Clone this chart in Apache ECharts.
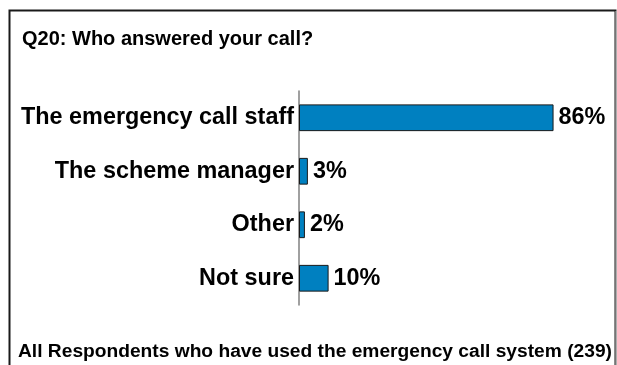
<!DOCTYPE html>
<html>
<head>
<meta charset="utf-8">
<script src="https://cdn.jsdelivr.net/npm/echarts@6/dist/echarts.min.js"></script>
<style>
  html, body { margin: 0; padding: 0; background: #fff; }
  #chart { width: 617px; height: 365px; }
</style>
</head>
<body>
<div id="chart"></div>
<script>
// Survey responses, top to bottom
const categories = ['The emergency call staff', 'The scheme manager', 'Other', 'Not sure'];
const percentages = [86, 3, 2, 10];

const titleText = 'Q20: Who answered your call?';
const footerText = 'All Respondents who have used the emergency call system (239)';

const chart = echarts.init(document.getElementById('chart'), null, { renderer: 'canvas' });
const font = 'Liberation Sans, Arial, sans-serif';

chart.setOption({
  animation: false,
  backgroundColor: '#ffffff',
  title: {
    text: titleText,
    left: 22,
    top: 29,
    padding: 0,
    textStyle: { fontFamily: font, fontSize: 20, fontWeight: 'bold', color: '#000' }
  },
  grid: { left: 299, right: 22, top: 91, bottom: 60 },
  xAxis: {
    type: 'value',
    min: 0,
    max: 100,
    show: false
  },
  yAxis: {
    type: 'category',
    inverse: true,
    data: categories,
    axisLine: { show: true, lineStyle: { color: '#808080', width: 1.5 } },
    axisTick: { show: false },
    axisLabel: {
      margin: 5,
      fontFamily: font,
      fontSize: 23.4,
      fontWeight: 'bold',
      color: '#000'
    }
  },
  series: [{
    type: 'bar',
    data: percentages,
    barWidth: '50%',
    itemStyle: { color: '#0080C0', borderColor: '#1a1a1a', borderWidth: 1 },
    label: {
      show: true,
      position: 'right',
      distance: 5,
      formatter: '{c}%',
      fontFamily: font,
      fontSize: 23.4,
      fontWeight: 'bold',
      color: '#000'
    }
  }],
  graphic: [
    {
      type: 'rect',
      shape: { x: 9.5, y: 10.5, width: 606, height: 380 },
      style: { fill: null, stroke: '#1a1a1a', lineWidth: 2 },
      silent: true
    },
    {
      type: 'line',
      shape: { x1: 616, y1: 11, x2: 616, y2: 365 },
      style: { stroke: '#d0d0d0', lineWidth: 1 },
      silent: true
    },
    {
      type: 'text',
      left: 18,
      top: 342,
      style: {
        text: footerText,
        fontFamily: font,
        fontSize: 19.2,
        fontWeight: 'bold',
        fill: '#000'
      }
    }
  ]
});
</script>
</body>
</html>
